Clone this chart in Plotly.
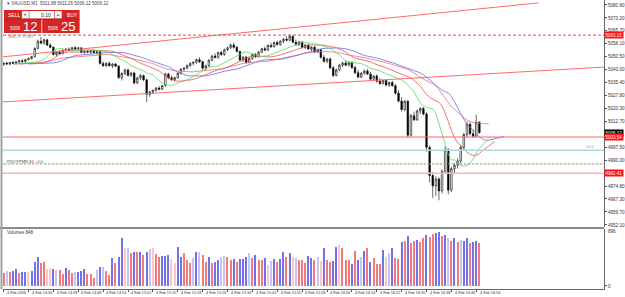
import plotly.graph_objects as go

# ---------------- data ----------------
time_labels = ["4 Feb 2026", "4 Feb 14:30", "4 Feb 14:38", "4 Feb 14:46", "4 Feb 14:54",
               "4 Feb 15:02", "4 Feb 15:10", "4 Feb 15:18", "4 Feb 15:26", "4 Feb 15:34",
               "4 Feb 15:42", "4 Feb 15:50", "4 Feb 15:58", "4 Feb 16:06", "4 Feb 16:14",
               "4 Feb 16:22", "4 Feb 16:30", "4 Feb 16:38", "4 Feb 16:46", "4 Feb 16:54"]
label_bars = [0, 8, 16, 24, 32, 40, 48, 56, 64, 72, 80, 88, 96, 104, 112, 120, 128, 136, 144, 152]

opens = [5046.0, 5046.8, 5046.2, 5047.1, 5046.6, 5047.5, 5048.1, 5047.6, 5048.9, 5049.5,
         5050.6, 5055.4, 5059.6, 5058.5, 5060.4, 5057.3, 5056.0, 5051.8, 5053.2, 5052.4,
         5054.3, 5054.9, 5054.2, 5055.8, 5055.2, 5055.7, 5053.0, 5053.9, 5053.2, 5053.8,
         5052.9, 5053.4, 5046.6, 5045.3, 5046.6, 5045.2, 5046.2, 5045.0, 5038.3, 5040.7,
         5042.8, 5039.6, 5041.0, 5035.2, 5038.1, 5039.5, 5037.0, 5028.5, 5029.8, 5030.9,
         5032.2, 5031.5, 5033.6, 5040.4, 5038.2, 5037.0, 5038.3, 5040.8, 5043.2, 5043.8,
         5045.4, 5046.7, 5047.2, 5048.8, 5047.6, 5043.8, 5045.2, 5048.4, 5050.9, 5050.1,
         5053.0, 5051.8, 5054.6, 5055.8, 5057.4, 5056.0, 5053.6, 5048.6, 5050.2, 5047.2,
         5049.6, 5051.8, 5050.5, 5053.2, 5055.2, 5054.4, 5057.1, 5056.4, 5058.8, 5057.6,
         5059.6, 5060.8, 5060.2, 5062.4, 5059.0, 5057.6, 5059.1, 5055.9, 5057.4, 5055.0,
         5056.0, 5053.4, 5054.6, 5050.2, 5047.8, 5049.2, 5044.0, 5039.6, 5042.8, 5045.6,
         5046.8, 5045.6, 5047.2, 5044.2, 5041.2, 5038.6, 5040.8, 5042.2, 5040.4, 5037.4,
         5039.2, 5036.2, 5034.8, 5036.6, 5034.0, 5035.4, 5033.6, 5029.2, 5024.6, 5019.6,
         5024.4, 5004.6, 5016.0, 5013.6, 5018.8, 5020.2, 5017.0, 4997.5, 4981.0, 4975.0,
         4979.0, 4972.0, 4983.5, 4996.0, 4972.5, 4985.0, 4987.0, 4989.5, 4997.5, 5005.0,
         5011.0, 5005.5, 5004.0, 5012.2]
highs = [5047.2, 5047.6, 5047.5, 5048.0, 5047.9, 5048.6, 5049.0, 5049.3, 5050.1, 5051.0,
         5056.0, 5060.5, 5062.0, 5061.2, 5061.0, 5058.4, 5056.6, 5053.8, 5054.2, 5054.9,
         5055.5, 5056.0, 5056.3, 5056.9, 5056.2, 5056.0, 5054.4, 5054.6, 5054.3, 5054.7,
         5054.0, 5053.9, 5047.8, 5047.3, 5047.7, 5046.8, 5046.8, 5045.6, 5041.5, 5043.5,
         5043.6, 5041.6, 5041.8, 5038.8, 5040.5, 5040.0, 5037.8, 5030.6, 5031.4, 5032.8,
         5033.4, 5034.0, 5041.0, 5041.2, 5039.6, 5038.8, 5041.4, 5043.9, 5044.4, 5046.0,
         5047.2, 5047.8, 5049.4, 5050.2, 5048.2, 5045.9, 5049.0, 5051.5, 5052.4, 5053.6,
         5054.0, 5055.3, 5056.4, 5058.2, 5058.8, 5057.0, 5054.2, 5050.8, 5051.0, 5050.2,
         5052.4, 5052.8, 5053.8, 5055.8, 5056.4, 5057.8, 5058.6, 5059.4, 5059.9, 5060.2,
         5061.4, 5062.4, 5063.6, 5063.0, 5060.6, 5059.8, 5059.8, 5058.0, 5058.2, 5056.6,
         5056.8, 5055.2, 5055.0, 5051.6, 5049.8, 5050.0, 5045.0, 5043.6, 5046.4, 5047.6,
         5048.4, 5047.8, 5047.8, 5045.2, 5042.8, 5041.6, 5043.0, 5043.4, 5041.6, 5039.8,
         5040.2, 5038.0, 5037.2, 5037.4, 5036.0, 5036.4, 5034.4, 5031.0, 5027.0, 5025.2,
         5025.2, 5017.0, 5018.4, 5019.6, 5021.0, 5021.2, 5018.0, 4998.5, 4983.0, 4980.5,
         4980.0, 4984.5, 4998.0, 4997.0, 4986.0, 4988.5, 4991.0, 4998.5, 5006.0, 5012.5,
         5012.0, 5008.0, 5016.5, 5012.8]
lows = [5045.3, 5045.9, 5045.6, 5046.3, 5045.8, 5046.9, 5047.2, 5047.0, 5048.2, 5048.8,
        5050.0, 5054.8, 5057.8, 5057.5, 5056.8, 5055.6, 5051.2, 5051.0, 5051.6, 5052.0,
        5053.4, 5053.9, 5053.8, 5054.9, 5054.1, 5052.6, 5052.2, 5052.6, 5052.1, 5052.5,
        5051.9, 5046.0, 5044.6, 5044.4, 5044.9, 5043.9, 5044.5, 5037.5, 5036.6, 5039.6,
        5039.0, 5038.6, 5034.4, 5034.5, 5037.0, 5036.2, 5024.0, 5027.0, 5028.6, 5030.0,
        5030.8, 5031.0, 5033.0, 5037.4, 5036.4, 5035.9, 5037.6, 5040.2, 5042.0, 5043.2,
        5044.6, 5045.5, 5046.4, 5046.9, 5043.0, 5042.6, 5044.6, 5047.8, 5049.5, 5049.4,
        5051.0, 5051.0, 5053.8, 5055.0, 5055.2, 5053.0, 5047.8, 5047.6, 5046.5, 5046.6,
        5048.8, 5049.9, 5050.0, 5052.6, 5053.8, 5053.9, 5055.8, 5055.9, 5057.0, 5057.0,
        5058.4, 5059.6, 5059.6, 5058.4, 5056.8, 5056.9, 5055.2, 5055.0, 5054.4, 5053.8,
        5052.8, 5052.6, 5049.4, 5047.0, 5046.6, 5043.2, 5038.6, 5039.0, 5042.0, 5044.4,
        5045.0, 5044.8, 5043.4, 5040.4, 5037.8, 5038.0, 5040.0, 5039.8, 5036.6, 5036.8,
        5035.4, 5034.0, 5034.2, 5033.2, 5032.8, 5033.0, 5028.4, 5023.6, 5018.4, 5018.6,
        5003.2, 5004.0, 5012.8, 5013.0, 5017.0, 5016.2, 4995.0, 4977.0, 4968.0, 4969.0,
        4966.5, 4970.5, 4982.0, 4970.0, 4971.5, 4982.5, 4985.0, 4988.0, 4995.5, 5003.5,
        5004.5, 5003.0, 5003.5, 5005.5]
closes = [5046.8, 5046.2, 5047.1, 5046.6, 5047.5, 5048.1, 5047.6, 5048.9, 5049.5, 5050.6,
          5055.4, 5059.6, 5058.5, 5060.4, 5057.3, 5056.0, 5051.8, 5053.2, 5052.4, 5054.3,
          5054.9, 5054.2, 5055.8, 5055.2, 5055.7, 5053.0, 5053.9, 5053.2, 5053.8, 5052.9,
          5053.4, 5046.6, 5045.3, 5046.6, 5045.2, 5046.2, 5045.0, 5038.3, 5040.7, 5042.8,
          5039.6, 5041.0, 5035.2, 5038.1, 5039.5, 5037.0, 5028.5, 5029.8, 5030.9, 5032.2,
          5031.5, 5033.6, 5040.4, 5038.2, 5037.0, 5038.3, 5040.8, 5043.2, 5043.8, 5045.4,
          5046.7, 5047.2, 5048.8, 5047.6, 5043.8, 5045.2, 5048.4, 5050.9, 5050.1, 5053.0,
          5051.8, 5054.6, 5055.8, 5057.4, 5056.0, 5053.6, 5048.6, 5050.2, 5047.2, 5049.6,
          5051.8, 5050.5, 5053.2, 5055.2, 5054.4, 5057.1, 5056.4, 5058.8, 5057.6, 5059.6,
          5060.8, 5060.2, 5062.4, 5059.0, 5057.6, 5059.1, 5055.9, 5057.4, 5055.0, 5056.0,
          5053.4, 5054.6, 5050.2, 5047.8, 5049.2, 5044.0, 5039.6, 5042.8, 5045.6, 5046.8,
          5045.6, 5047.2, 5044.2, 5041.2, 5038.6, 5040.8, 5042.2, 5040.4, 5037.4, 5039.2,
          5036.2, 5034.8, 5036.6, 5034.0, 5035.4, 5033.6, 5029.2, 5024.6, 5019.6, 5024.4,
          5004.6, 5016.0, 5013.6, 5018.8, 5020.2, 5017.0, 4997.5, 4981.0, 4975.0, 4979.0,
          4972.0, 4983.5, 4996.0, 4972.5, 4985.0, 4987.0, 4989.5, 4997.5, 5005.0, 5011.0,
          5005.5, 5004.0, 5012.2, 5006.12]

volumes = [208, 240, 224, 240, 272, 208, 224, 224, 224, 240,
           384, 464, 368, 384, 272, 288, 272, 256, 256, 192,
           288, 256, 208, 224, 224, 240, 272, 192, 192, 128,
           256, 304, 304, 240, 176, 448, 368, 464, 768, 608,
           608, 528, 544, 544, 544, 496, 544, 592, 608, 512,
           464, 480, 480, 496, 432, 368, 624, 464, 528, 416,
           368, 448, 544, 544, 496, 384, 464, 368, 384, 416,
           464, 480, 464, 416, 432, 384, 432, 432, 464, 528,
           448, 496, 416, 416, 448, 336, 400, 432, 384, 432,
           544, 464, 528, 464, 448, 416, 416, 368, 480, 448,
           416, 464, 400, 600, 416, 384, 400, 620, 650, 600,
           416, 416, 352, 560, 416, 464, 560, 600, 384, 448,
           352, 352, 580, 464, 520, 600, 448, 432, 700, 720,
           800, 690, 720, 740, 700, 760, 820, 780, 830, 840,
           870, 800, 820, 760, 720, 760, 700, 740, 720, 760,
           680, 700, 720, 680]
vol_colors = list("rlrbbrbbpb"
                  "bbrrppblrr"
                  "brrlbbbrrr"
                  "lblrrbrbbp"
                  "lrbrbrblpr"
                  "rbbbppbbrr"
                  "rlblrrbrbb"
                  "llrrbrbbbl"
                  "rbrrbplbrb"
                  "brbplrrrbb"
                  "rlpbrrbbpr"
                  "rrbrblbrbr"
                  "rrbplbrrbr"
                  "brrbrrbrrb"
                  "brblrbrlbb"
                  "rbbr")

# horizontal levels and trend lines (price values)
level_dashed = 5063.15
level_red = 5003.54
level_teal = 4995.80
level_pivot = 4987.80
level_pink = 4982.41
last_price = 5006.12
upper_trend_x = [-1.0, 172.0]
upper_trend_y = [5050.3, 5082.0]
lower_trend_x = [-1.0, 193.5]
lower_trend_y = [5024.0, 5044.5]

price_ticks = [5080.80, 5073.20, 5065.70, 5058.10, 5050.50, 5043.00, 5035.40, 5027.80,
               5020.30, 5012.70, 4997.50, 4990.00, 4974.80, 4967.30, 4959.70, 4952.10]

# ---------------- geometry ----------------
W, H = 625, 297
ML, MR, MT, MB = 3, 18, 0, 8
PW, PH = W - ML - MR, H - MT - MB
FONT = "Liberation Sans"


def px(x):
    return (x - ML) / PW


def py(y):
    return 1 - (y - MT) / PH


idx = list(range(len(closes)))
median = [(h + l) / 2 for h, l in zip(highs, lows)]


def smma(vals, n):
    out, s = [], None
    for v in vals:
        s = v if s is None else (s * (n - 1) + v) / n
        out.append(s)
    return out


fig = go.Figure()

# alligator-style moving averages
ma_specs = [(21, 3, "#f07070"), (13, 8, "#6a6af0"), (8, 5, "#f05050"), (5, 3, "#5ad85a")]
for n, shift, col in ma_specs:
    vals = smma(median, n)
    fig.add_trace(go.Scatter(x=[i + shift for i in idx], y=vals, mode="lines",
                             line=dict(color=col, width=0.8), hoverinfo="skip",
                             showlegend=False, yaxis="y"))

# trend lines
fig.add_trace(go.Scatter(x=upper_trend_x, y=upper_trend_y, mode="lines",
                         line=dict(color="#ff6a6a", width=1), showlegend=False, hoverinfo="skip"))
fig.add_trace(go.Scatter(x=lower_trend_x, y=lower_trend_y, mode="lines",
                         line=dict(color="#ff6a6a", width=1), showlegend=False, hoverinfo="skip"))

# candles
fig.add_trace(go.Candlestick(x=idx, open=opens, high=highs, low=lows, close=closes,
                             increasing=dict(line=dict(color="black", width=0.6), fillcolor="white"),
                             decreasing=dict(line=dict(color="black", width=0.6), fillcolor="black"),
                             whiskerwidth=0, showlegend=False, hoverinfo="skip", yaxis="y"))

# volumes
cmap = {"b": "#7272ea", "r": "#f27a7a", "p": "#ffc4c4", "l": "#c4c4f6"}
fig.add_trace(go.Bar(x=idx, y=volumes, width=0.38,
                     marker=dict(color=[cmap[c] for c in vol_colors], line=dict(width=0)),
                     showlegend=False, hoverinfo="skip", yaxis="y2"))

fig.update_layout(
    width=W, height=H, margin=dict(l=ML, r=MR, t=MT, b=MB),
    paper_bgcolor="white", plot_bgcolor="white",
    font=dict(family=FONT, size=5, color="#333"),
    bargap=0,
    xaxis=dict(range=[-0.2, PW / 3.125 - 0.2], anchor="y2", showgrid=False, zeroline=False,
               rangeslider=dict(visible=False), tickvals=label_bars, ticks="outside",
               ticklen=2, tickcolor="#555", showticklabels=False,
               showline=True, linecolor="#666", linewidth=1),
    yaxis=dict(domain=[(PH - 227) / PH, 1], range=[4950.9, 5083.7], side="right",
               showgrid=False, zeroline=False, tickvals=price_ticks,
               ticktext=[f"{v:.2f}" for v in price_ticks], ticks="outside", ticklen=2,
               tickcolor="#555", showline=True, linecolor="#666", linewidth=1,
               tickfont=dict(size=4.6, color="#333")),
    yaxis2=dict(domain=[0, (PH - 229) / PH], range=[-50, 910], side="right",
                showgrid=False, zeroline=False, tickvals=[0], ticktext=["0"],
                ticks="outside", ticklen=2, tickcolor="#555", showline=True,
                linecolor="#666", linewidth=1, tickfont=dict(size=4.6, color="#333")),
)

shapes = []
# horizontal levels
shapes.append(dict(type="line", xref="paper", x0=0, x1=1, yref="y", y0=level_dashed, y1=level_dashed,
                   line=dict(color="#ff4040", width=1, dash="3px,2px")))
shapes.append(dict(type="line", xref="paper", x0=0, x1=1, yref="y", y0=level_red, y1=level_red,
                   line=dict(color="#ff6060", width=1)))
shapes.append(dict(type="line", xref="paper", x0=0, x1=1, yref="y", y0=level_teal, y1=level_teal,
                   line=dict(color="#a8dcdc", width=1.5)))
shapes.append(dict(type="line", xref="paper", x0=0, x1=1, yref="y", y0=level_pivot, y1=level_pivot,
                   line=dict(color="#70d070", width=1, dash="4px,4px")))
shapes.append(dict(type="line", xref="paper", x0=0, x1=1, yref="y", y0=level_pivot, y1=level_pivot,
                   line=dict(color="#f07070", width=1, dash="0px,5px,2px,1px")))
shapes.append(dict(type="line", xref="paper", x0=0, x1=1, yref="y", y0=level_pink, y1=level_pink,
                   line=dict(color="#ffb4b4", width=1.5)))
# panel separator and left border
shapes.append(dict(type="line", xref="paper", x0=px(0), x1=px(607), yref="paper",
                   y0=py(228), y1=py(228), line=dict(color="#8a8a8a", width=2)))
shapes.append(dict(type="line", xref="paper", x0=px(1.5), x1=px(1.5), yref="paper",
                   y0=py(0), y1=py(289), line=dict(color="#a0a0a0", width=2)))

# trading panel
RED = "#d42626"
shapes += [
    dict(type="rect", xref="paper", yref="paper", x0=px(4), x1=px(80), y0=py(33), y1=py(10),
         fillcolor=RED, line=dict(width=0)),
    dict(type="rect", xref="paper", yref="paper", x0=px(22), x1=px(29), y0=py(18.5), y1=py(11),
         fillcolor="#f2f2f2", line=dict(width=0)),
    dict(type="rect", xref="paper", yref="paper", x0=px(29.5), x1=px(54.5), y0=py(18.5), y1=py(11),
         fillcolor="white", line=dict(width=0)),
    dict(type="rect", xref="paper", yref="paper", x0=px(55), x1=px(62), y0=py(18.5), y1=py(11),
         fillcolor="#f2f2f2", line=dict(width=0)),
    dict(type="line", xref="paper", yref="paper", x0=px(42), x1=px(42), y0=py(33), y1=py(19.5),
         line=dict(color="#f8d0d0", width=1)),
    dict(type="line", xref="paper", yref="paper", x0=px(4), x1=px(80), y0=py(19.2), y1=py(19.2),
         line=dict(color="#b01818", width=0.6)),
]
fig.update_layout(shapes=shapes)

ann = []


def txt(x, y, s, size=5, color="#333", xanchor="left", yanchor="middle", **kw):
    ann.append(dict(x=px(x), y=py(y), xref="paper", yref="paper", text=s, showarrow=False,
                    xanchor=xanchor, yanchor=yanchor, font=dict(size=size, color=color, family=FONT),
                    **kw))


# header text
txt(5, 4, "▾ XAUUSD,M1  5011.88 5011.26 5006.12 5006.12", size=4.5, color="#444")
txt(6, 14.8, "SELL", size=5, color="white")
txt(25.5, 14.8, "▾", size=4, color="#555", xanchor="center")
txt(53.5, 14.8, "0.10", size=5, color="#222", xanchor="right")
txt(58.5, 14.8, "▴", size=4, color="#555", xanchor="center")
txt(65, 14.8, "BUY", size=5, color="white")
txt(8, 28, "5006", size=4.5, color="white")
txt(21, 26, "12", size=13, color="white")
txt(46, 28, "5006", size=4.5, color="white")
txt(59, 26, "25", size=13, color="white")
txt(6, 36.5, "5063.15  POINT", size=3.5, color="#888")
txt(5, 161.5, "PIVOTPMR.S1 : 0.0", size=4, color="#444")
txt(600, 146.5, "50.0", size=4, color="#7ab0b0", xanchor="right")
txt(5, 232, "Volumes 848", size=4.5, color="#333")
txt(609, 231, "896", size=4.6, color="#333")

# bottom time labels
for b, s in zip(label_bars, time_labels):
    ann.append(dict(x=b + 0.4, y=0, xref="x", yref="paper", text=s, showarrow=False,
                    xanchor="left", yanchor="top", font=dict(size=3.8, color="#333", family=FONT)))

# axis price boxes
for val, bg, s in [(level_dashed, "#ff1010", f"{level_dashed:.2f}"),
                   (last_price, "#000000", f"{last_price:.2f}"),
                   (level_red, "#ff1010", f"{level_red:.2f}"),
                   (level_pink, "#ff1010", f"{level_pink:.2f}")]:
    ann.append(dict(x=1, y=val, xref="paper", yref="y", text=s, showarrow=False,
                    xanchor="left", yanchor="middle", bgcolor=bg, borderpad=0.5,
                    font=dict(size=4.5, color="white", family=FONT)))

fig.update_layout(annotations=ann)
fig.write_html("out.html")
